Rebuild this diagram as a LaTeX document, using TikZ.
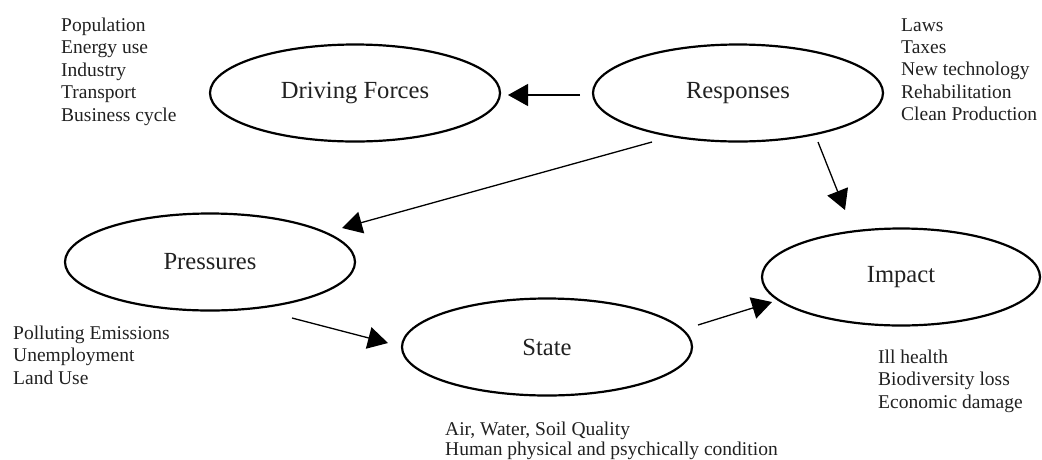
\documentclass[tikz,border=0pt]{standalone}
\usepackage{fontspec}
\setmainfont{Liberation Serif}
\usetikzlibrary{arrows.meta,shapes.geometric}
\definecolor{ink}{gray}{0.13}
\tikzset{
  oval/.style={draw=black, line width=2.2pt, ellipse, minimum width=290pt, minimum height=97pt, inner sep=0pt,
    font=\fontsize{24.6}{28}\selectfont, text=ink},
  lbl/.style={anchor=north west, inner sep=0pt, align=left, text=ink,
    font=\fontsize{19.5}{22.4}\selectfont},
  arr/.style={line width=1.3pt, -{Triangle[length=20pt,width=22pt]}}
}
\begin{document}
\begin{tikzpicture}[x=1pt,y=-1pt]
\useasboundingbox (0,0) rectangle (1042,459);
\node[oval] (drive) at (355,93) {Driving Forces};
\node[oval] (resp) at (738,93) {Responses};
\node[oval] (press) at (210,262) {Pressures};
\node[oval] (state) at (547,347) {State};
\node[oval, minimum width=278pt] (impact) at (901,277) {Impact};

\node[lbl] (drivelbl) at (61,17.7) {Population\\Energy use\\Industry\\Transport\\Business cycle};
\node[lbl] (resplbl) at (901,18.1) {Laws\\Taxes\\New technology\\Rehabilitation\\Clean Production};
\node[lbl] (presslbl) at (13,325.7) {Polluting Emissions\\Unemployment\\Land Use};
\node[lbl, font=\fontsize{19.5}{20}\selectfont] (statelbl) at (445,421.7) {Air, Water, Soil Quality\\Human physical and psychically condition};
\node[lbl] (impactlbl) at (878,349.7) {Ill health\\Biodiversity loss\\Economic damage};

\draw[arr] ([shift={(-158,2)}]resp.center) -- ([shift={(153,2)}]drive.center);
\draw[arr] ([shift={(-86,49)}]resp.center) -- ([shift={(132,-34)}]press.center);
\draw[arr] ([shift={(80,49)}]resp.center) -- ([shift={(-56,-67)}]impact.center);
\draw[arr] ([shift={(82,56)}]press.center) -- ([shift={(-159,-4)}]state.center);
\draw[arr] ([shift={(151,-22)}]state.center) -- ([shift={(-129,25)}]impact.center);
\end{tikzpicture}
\end{document}
